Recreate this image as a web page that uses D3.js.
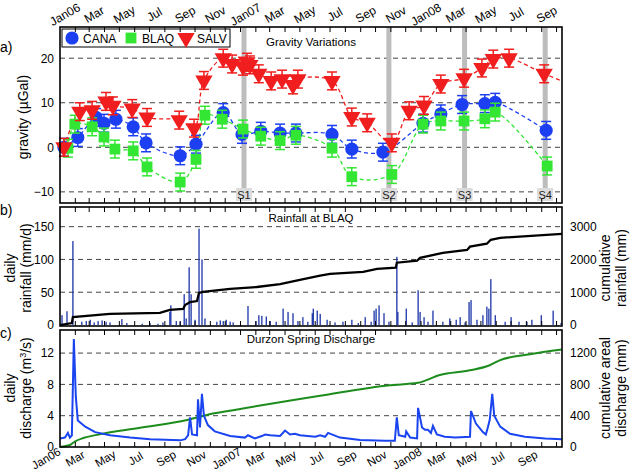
<!DOCTYPE html>
<html>
<head>
<meta charset="utf-8">
<script src="https://cdn.jsdelivr.net/npm/d3@7"></script>
<style>
  body { margin: 0; background: #fff; }
  svg { font-family: "Liberation Sans", Arial, sans-serif; }
</style>
</head>
<body>
<div id="chart"></div>
<script>
// ---- data ----
// gravity surveys [date, value µGal]
const canaData = [
  ["2006-01-09", 0], ["2006-02-06", 2.2], ["2006-03-15", 6.7], ["2006-03-31", 5.4],
  ["2006-04-24", 6.3], ["2006-05-29", 4.6], ["2006-06-24", 1.0], ["2006-09-01", -1.9],
  ["2006-10-03", 0.7], ["2006-11-27", 7.8], ["2007-01-04", 2.9], ["2007-02-11", 3.6],
  ["2007-03-22", 3.2], ["2007-04-23", 3.2], ["2007-07-05", 2.9], ["2007-08-14", -0.4],
  ["2007-10-16", -1.1], ["2008-01-05", 5.4], ["2008-02-10", 7.5], ["2008-03-24", 9.6],
  ["2008-05-09", 9.8], ["2008-05-30", 10.1], ["2008-09-10", 3.8]
];
const blaqData = [
  ["2006-01-17", -0.2], ["2006-01-31", 5.2], ["2006-03-07", 4.6], ["2006-03-31", 2.3],
  ["2006-04-22", -0.4], ["2006-05-29", -0.8], ["2006-06-26", -4.4], ["2006-09-01", -7.8],
  ["2006-10-03", -2.7], ["2006-10-21", 7.2], ["2006-11-25", 6.3], ["2007-01-06", 4.1],
  ["2007-02-11", 2.5], ["2007-03-22", 1.5], ["2007-04-23", 2.7], ["2007-07-05", -0.2],
  ["2007-08-14", -6.6], ["2007-11-03", -6.1], ["2008-01-05", 5.2], ["2008-02-10", 5.9],
  ["2008-03-28", 5.9], ["2008-05-09", 6.4], ["2008-05-30", 7.9], ["2008-09-12", -4.2]
];
const salvData = [
  ["2006-01-09", 0], ["2006-02-10", 8.0], ["2006-03-07", 8.3], ["2006-04-04", 10.3],
  ["2006-04-18", 9.3], ["2006-05-27", 8.7], ["2006-06-26", 6.7], ["2006-08-30", 6.1],
  ["2006-09-29", 4.3], ["2006-10-19", 15.0], ["2006-11-27", 20.0], ["2006-12-15", 18.7],
  ["2007-01-06", 18.2], ["2007-01-14", 19.1], ["2007-01-20", 18.5], ["2007-02-07", 16.5],
  ["2007-03-04", 14.9], ["2007-03-26", 15.3], ["2007-04-17", 14.0], ["2007-04-27", 15.3],
  ["2007-07-05", 14.9], ["2007-08-14", 6.8], ["2007-09-14", 5.5], ["2007-11-03", 1.0],
  ["2007-12-08", 8.2], ["2008-01-07", 9.4], ["2008-02-10", 14.2], ["2008-03-28", 15.5],
  ["2008-05-03", 17.8], ["2008-05-26", 19.8], ["2008-06-27", 20.0], ["2008-09-06", 16.5]
];
const salvTrendEnd = ["2008-10-12", 14.9];
const gravityError = 2;
const surveys = [["S1", "2007-01-08"], ["S2", "2007-10-28"], ["S3", "2008-03-29"], ["S4", "2008-09-08"]];

// daily rainfall at BLAQ [date, mm/d]
const rainDaily = [
  ["2006-01-05", 15], ["2006-01-15", 21], ["2006-01-27", 128], ["2006-02-14", 5], ["2006-02-23", 6],
  ["2006-03-03", 8], ["2006-03-11", 4], ["2006-03-19", 6], ["2006-03-27", 7], ["2006-04-04", 5],
  ["2006-04-12", 4], ["2006-05-06", 9], ["2006-05-16", 3], ["2006-06-16", 2], ["2006-07-02", 3],
  ["2006-07-18", 2], ["2006-07-28", 4], ["2006-08-11", 20], ["2006-08-13", 30], ["2006-08-24", 6],
  ["2006-09-01", 5], ["2006-09-09", 47], ["2006-09-13", 10], ["2006-09-19", 88], ["2006-09-23", 47],
  ["2006-10-01", 8], ["2006-10-09", 147], ["2006-10-15", 100], ["2006-10-21", 10], ["2006-11-14", 5],
  ["2006-11-21", 7], ["2006-11-27", 6], ["2006-12-03", 8], ["2006-12-11", 5], ["2006-12-17", 4],
  ["2007-01-16", 29], ["2007-02-01", 6], ["2007-02-07", 15], ["2007-02-13", 14], ["2007-02-22", 13],
  ["2007-03-02", 6], ["2007-03-14", 5], ["2007-03-28", 25], ["2007-04-07", 20], ["2007-04-17", 18],
  ["2007-04-27", 6], ["2007-05-07", 12], ["2007-05-17", 5], ["2007-05-26", 18], ["2007-05-28", 25],
  ["2007-06-05", 22], ["2007-06-11", 17], ["2007-06-25", 8], ["2007-07-11", 4], ["2007-07-27", 5],
  ["2007-08-14", 8], ["2007-08-27", 3], ["2007-09-10", 12], ["2007-09-22", 5], ["2007-09-28", 22],
  ["2007-10-02", 25], ["2007-10-08", 30], ["2007-10-18", 18], ["2007-10-28", 5], ["2007-11-13", 104],
  ["2007-11-15", 20], ["2007-12-02", 25], ["2007-12-14", 4], ["2007-12-26", 53], ["2007-12-30", 20],
  ["2008-01-07", 12], ["2008-01-15", 5], ["2008-01-25", 22], ["2008-02-14", 5], ["2008-02-28", 10],
  ["2008-03-12", 8], ["2008-03-20", 12], ["2008-03-30", 4], ["2008-04-07", 35], ["2008-04-11", 38],
  ["2008-04-23", 8], ["2008-05-05", 15], ["2008-05-13", 28], ["2008-05-17", 25], ["2008-05-21", 70],
  ["2008-05-30", 15], ["2008-06-19", 5], ["2008-07-01", 12], ["2008-07-17", 5], ["2008-08-02", 5],
  ["2008-08-12", 8], ["2008-08-31", 15], ["2008-09-24", 22], ["2008-10-10", 3]
];
// cumulative rainfall [date, mm]
const rainCumul = [
  ["2006-01-01", 0], ["2006-01-25", 60], ["2006-01-27", 245], ["2006-04-12", 340], ["2006-07-22", 370],
  ["2006-08-11", 460], ["2006-09-07", 490], ["2006-09-11", 610], ["2006-09-21", 700], ["2006-10-05", 730],
  ["2006-10-09", 980], ["2006-10-17", 1010], ["2006-12-11", 1100], ["2007-02-03", 1160], ["2007-03-22", 1250],
  ["2007-05-01", 1380], ["2007-06-11", 1510], ["2007-07-01", 1560], ["2007-09-06", 1620], ["2007-10-04", 1710],
  ["2007-11-11", 1750], ["2007-11-13", 1900], ["2007-12-24", 1960], ["2007-12-30", 2050], ["2008-02-14", 2200],
  ["2008-04-03", 2290], ["2008-04-09", 2390], ["2008-05-13", 2480], ["2008-05-21", 2600], ["2008-06-09", 2660],
  ["2008-10-12", 2780]
];

// Durzon spring discharge [date, m3/s]
const dischargeDaily = [
  ["2006-01-01", 1.1], ["2006-01-11", 1.2], ["2006-01-17", 1.8], ["2006-01-21", 1.2], ["2006-01-25", 1.5],
  ["2006-01-29", 13.8], ["2006-02-02", 6.4], ["2006-02-06", 3.4], ["2006-02-21", 2.6], ["2006-03-13", 1.9],
  ["2006-04-12", 1.5], ["2006-05-23", 1.2], ["2006-07-02", 1.0], ["2006-09-01", 0.85], ["2006-09-11", 1.0],
  ["2006-09-17", 1.5], ["2006-09-21", 3.8], ["2006-09-25", 1.6], ["2006-10-05", 1.5], ["2006-10-07", 6.1],
  ["2006-10-11", 2.5], ["2006-10-15", 6.8], ["2006-10-19", 4.0], ["2006-10-27", 2.8], ["2006-11-10", 2.0],
  ["2006-12-11", 1.4], ["2007-01-10", 1.2], ["2007-01-16", 1.5], ["2007-01-30", 1.1], ["2007-02-13", 1.4],
  ["2007-02-20", 1.6], ["2007-03-02", 1.5], ["2007-03-22", 1.4], ["2007-04-01", 2.1], ["2007-04-11", 1.6],
  ["2007-04-21", 1.7], ["2007-05-01", 1.5], ["2007-06-01", 1.3], ["2007-06-11", 1.5], ["2007-06-21", 1.3],
  ["2007-06-27", 1.8], ["2007-07-21", 1.2], ["2007-08-31", 0.9], ["2007-10-20", 0.8], ["2007-11-09", 0.8],
  ["2007-11-13", 3.8], ["2007-11-17", 1.5], ["2007-11-30", 1.3], ["2007-12-02", 2.0], ["2007-12-10", 1.2],
  ["2007-12-24", 1.1], ["2007-12-26", 5.0], ["2008-01-03", 2.5], ["2008-01-09", 2.2], ["2008-01-15", 2.2],
  ["2008-01-21", 1.8], ["2008-01-25", 2.7], ["2008-02-02", 1.6], ["2008-02-18", 1.3], ["2008-03-10", 1.2],
  ["2008-04-09", 1.3], ["2008-04-11", 4.6], ["2008-04-21", 3.0], ["2008-05-05", 1.9], ["2008-05-11", 1.6],
  ["2008-05-15", 2.5], ["2008-05-19", 3.5], ["2008-05-24", 6.8], ["2008-05-28", 4.0], ["2008-06-09", 2.6],
  ["2008-06-29", 1.7], ["2008-07-29", 1.3], ["2008-09-08", 1.1], ["2008-10-12", 1.0]
];
// cumulative areal discharge [date, mm]
const dischargeCumul = [
  ["2006-01-01", 0], ["2006-01-21", 25], ["2006-01-31", 70], ["2006-02-17", 115], ["2006-03-17", 155],
  ["2006-06-12", 245], ["2006-09-15", 345], ["2006-10-25", 410], ["2006-12-17", 470], ["2007-06-11", 655],
  ["2007-10-30", 790], ["2007-12-26", 820], ["2008-02-08", 920], ["2008-04-09", 980], ["2008-05-19", 1045],
  ["2008-06-09", 1110], ["2008-08-08", 1185], ["2008-10-12", 1245]
];

const gravityTicks = [-10, 0, 10, 20];
const rainTicks = [0, 50, 100, 150];
const rainCumulTicks = [0, 1000, 2000, 3000];
const dischargeTicks = [0, 4, 8, 12];
const dischargeCumulTicks = [0, 400, 800, 1200];

// ---- setup ----
const W = 631, H = 473;
const left = 60, right = 562;
const parse = d3.timeParse("%Y-%m-%d");
const svg = d3.select("#chart").append("svg").attr("width", W).attr("height", H);

const x = d3.scaleTime()
  .domain([parse("2006-01-01"), parse("2008-10-12")])
  .range([left, right]);
const months = d3.timeMonth.range(parse("2006-01-01"), parse("2008-10-12"));
const labelMonths = months.filter((d) => d.getMonth() % 2 === 0);
const monthLabel = (d) => d.getMonth() === 0 ? d3.timeFormat("%b%y")(d) : d3.timeFormat("%b")(d);

const pa = { top: 27, bottom: 203 };
const pb = { top: 207, bottom: 326 };
const pc = { top: 330, bottom: 447 };

const yA = d3.scaleLinear().domain([-12.5, 27]).range([pa.bottom, pa.top]);
const yB = d3.scaleLinear().domain([-1.5, 180]).range([pb.bottom, pb.top]);
const yB2 = d3.scaleLinear().domain([-30, 3600]).range([pb.bottom, pb.top]);
const yC = d3.scaleLinear().domain([0, 14.95]).range([pc.bottom, pc.top]);
const yC2 = d3.scaleLinear().domain([0, 1495]).range([pc.bottom, pc.top]);

const cBlue = "#1d3ff2", cGreen = "#33e633", cRed = "#f01e1e";

function grid(scale, ticks) {
  svg.append("g").selectAll("line").data(ticks).join("line")
    .attr("x1", left).attr("x2", right)
    .attr("y1", (d) => scale(d)).attr("y2", (d) => scale(d))
    .attr("stroke", "#444").attr("stroke-width", 1).attr("stroke-dasharray", "5,4");
}

function frame(p, scaleL, ticksL, scaleR, ticksR) {
  const g = svg.append("g");
  // month ticks, inward on top and bottom
  g.selectAll(".tt").data(months.slice(1)).join("line")
    .attr("x1", (d) => x(d)).attr("x2", (d) => x(d))
    .attr("y1", p.top).attr("y2", p.top + 5)
    .attr("stroke", "#000").attr("stroke-width", 1);
  g.selectAll(".tb").data(months.slice(1)).join("line")
    .attr("x1", (d) => x(d)).attr("x2", (d) => x(d))
    .attr("y1", p.bottom).attr("y2", p.bottom - 5)
    .attr("stroke", "#000").attr("stroke-width", 1);
  const yl = d3.axisLeft(scaleL).tickValues(ticksL).tickSize(0).tickPadding(6).tickFormat(d3.format("d"));
  g.append("g").attr("transform", `translate(${left},0)`).call(yl)
    .call((s) => s.select(".domain").remove())
    .selectAll("text").attr("font-size", 12).attr("font-family", "Liberation Sans, Arial").attr("fill", "#000");
  if (scaleR) {
    const yr = d3.axisRight(scaleR).tickValues(ticksR).tickSize(0).tickPadding(8).tickFormat(d3.format("d"));
    g.append("g").attr("transform", `translate(${right},0)`).call(yr)
      .call((s) => s.select(".domain").remove())
      .selectAll("text").attr("font-size", 12).attr("font-family", "Liberation Sans, Arial").attr("fill", "#000");
  }
  g.append("rect").attr("x", left).attr("y", p.top)
    .attr("width", right - left).attr("height", p.bottom - p.top)
    .attr("fill", "none").attr("stroke", "#000").attr("stroke-width", 1.6);
}

function panelTitle(text, y) {
  svg.append("text").attr("x", (left + right) / 2).attr("y", y)
    .attr("text-anchor", "middle").attr("font-size", 11.5).text(text);
}

function vLabel(lines, cx, cy) {
  const t = svg.append("text").attr("transform", `translate(${cx},${cy}) rotate(-90)`)
    .attr("text-anchor", "middle").attr("font-size", 14);
  lines.forEach((l, i) => {
    t.append("tspan").attr("x", 0).attr("dy", i === 0 ? 0 : 16).html(l);
  });
}

// ---- panel a: gravity ----
grid(yA, gravityTicks);

surveys.forEach(([name, date]) => {
  const sx = x(parse(date));
  svg.append("rect").attr("x", sx - 2.5).attr("y", pa.top).attr("width", 5)
    .attr("height", pa.bottom - pa.top - 15).attr("fill", "#bdbdbd");
  svg.append("rect").attr("x", sx - 8).attr("y", pa.bottom - 15).attr("width", 16).attr("height", 13)
    .attr("fill", "#dcdcdc");
  svg.append("text").attr("x", sx).attr("y", pa.bottom - 4).attr("text-anchor", "middle")
    .attr("font-size", 11).attr("fill", "#222").text(name);
});

const series = [
  { name: "CANA", data: canaData, color: cBlue, shape: "circle" },
  { name: "BLAQ", data: blaqData, color: cGreen, shape: "square" },
  { name: "SALV", data: salvData, color: cRed, shape: "triangle" }
];

const lineA = d3.line().x((d) => x(parse(d[0]))).y((d) => yA(d[1])).curve(d3.curveCatmullRom.alpha(0.5));
series.forEach((s) => {
  const pts = s.name === "SALV" ? s.data.concat([salvTrendEnd]) : s.data;
  svg.append("path").datum(pts).attr("d", lineA)
    .attr("fill", "none").attr("stroke", s.color).attr("stroke-width", 1.3)
    .attr("stroke-dasharray", "4,3");
});

function marker(g, shape, color, size) {
  if (shape === "circle") return g.append("circle").attr("r", size * 0.55).attr("fill", color);
  if (shape === "square") return g.append("rect").attr("x", -size * 0.45).attr("y", -size * 0.45)
    .attr("width", size * 0.9).attr("height", size * 0.9).attr("fill", color);
  return g.append("path").attr("d", d3.symbol().type(d3.symbolTriangle).size(size * size * 0.9)())
    .attr("transform", "rotate(180)").attr("fill", color);
}

series.forEach((s) => {
  const g = svg.append("g");
  const pts = g.selectAll("g").data(s.data).join("g")
    .attr("transform", (d) => `translate(${x(parse(d[0]))},${yA(d[1])})`);
  pts.each(function (d) {
    const p = d3.select(this);
    const y1 = yA(d[1] + gravityError) - yA(d[1]);
    const y2 = yA(d[1] - gravityError) - yA(d[1]);
    p.append("line").attr("y1", y1).attr("y2", y2).attr("stroke", s.color).attr("stroke-width", 1.5);
    p.append("line").attr("x1", -5).attr("x2", 5).attr("y1", y1).attr("y2", y1).attr("stroke", s.color).attr("stroke-width", 1.5);
    p.append("line").attr("x1", -5).attr("x2", 5).attr("y1", y2).attr("y2", y2).attr("stroke", s.color).attr("stroke-width", 1.5);
    marker(p, s.shape, s.color, 12);
  });
});

// legend
const lg = svg.append("g");
lg.append("rect").attr("x", 62).attr("y", 29).attr("width", 168).attr("height", 18)
  .attr("fill", "#fff").attr("stroke", "#000").attr("stroke-width", 1);
[[72, "CANA"], [131, "BLAQ"], [186, "SALV"]].forEach(([lx, name], i) => {
  const g = lg.append("g").attr("transform", `translate(${lx},38)`);
  marker(g, series[i].shape, series[i].color, 12);
  lg.append("text").attr("x", lx + 11).attr("y", 42.5).attr("font-size", 12).text(name);
});

frame(pa, yA, gravityTicks);
panelTitle("Gravity Variations", 46);

// top month labels
svg.append("g").selectAll("text").data(labelMonths).join("text")
  .attr("transform", (d) => `translate(${x(d) + 7},${18}) rotate(-30)`)
  .attr("text-anchor", "middle").attr("font-size", 12).text(monthLabel);

// ---- panel b: rainfall ----
grid(yB, rainTicks.slice(1));
svg.append("g").selectAll("rect").data(rainDaily).join("rect")
  .attr("x", (d) => x(parse(d[0])) - 0.6).attr("width", 1.3)
  .attr("y", (d) => yB(d[1])).attr("height", (d) => yB(0) - yB(d[1]))
  .attr("fill", "#1c35a8");
svg.append("path").datum(rainCumul)
  .attr("d", d3.line().x((d) => x(parse(d[0]))).y((d) => yB2(d[1])))
  .attr("fill", "none").attr("stroke", "#000").attr("stroke-width", 2.3);
frame(pb, yB, rainTicks, yB2, rainCumulTicks);
panelTitle("Rainfall at BLAQ", 222);

// ---- panel c: discharge ----
grid(yC, dischargeTicks.slice(1));
svg.append("path").datum(dischargeCumul)
  .attr("d", d3.line().x((d) => x(parse(d[0]))).y((d) => yC2(d[1])).curve(d3.curveMonotoneX))
  .attr("fill", "none").attr("stroke", "#1c8c1c").attr("stroke-width", 2);
svg.append("path").datum(dischargeDaily)
  .attr("d", d3.line().x((d) => x(parse(d[0]))).y((d) => yC(d[1])))
  .attr("fill", "none").attr("stroke", "#1a44f0").attr("stroke-width", 2);
frame(pc, yC, dischargeTicks, yC2, dischargeCumulTicks);
panelTitle("Durzon Spring Discharge", 343);

// bottom month labels
svg.append("g").selectAll("text").data(labelMonths).join("text")
  .attr("transform", (d) => `translate(${x(d) - 12},${462}) rotate(-30)`)
  .attr("text-anchor", "middle").attr("font-size", 11.5).text(monthLabel);

// axis titles
vLabel(["gravity (µGal)"], 28, 117);
vLabel(["daily", "rainfall (mm/d)"], 15, 268);
vLabel(["daily", "discharge (m<tspan dy='-5' font-size='9'>3</tspan><tspan dy='5'>/s)</tspan>"], 15, 388);
vLabel(["cumulative", "rainfall (mm)"], 610, 268);
vLabel(["cumulative areal", "discharge (mm)"], 610, 388);

// panel letters
[["a)", 52], ["b)", 215], ["c)", 338]].forEach(([t, y]) => {
  svg.append("text").attr("x", 0).attr("y", y).attr("font-size", 14).text(t);
});
</script>
</body>
</html>
